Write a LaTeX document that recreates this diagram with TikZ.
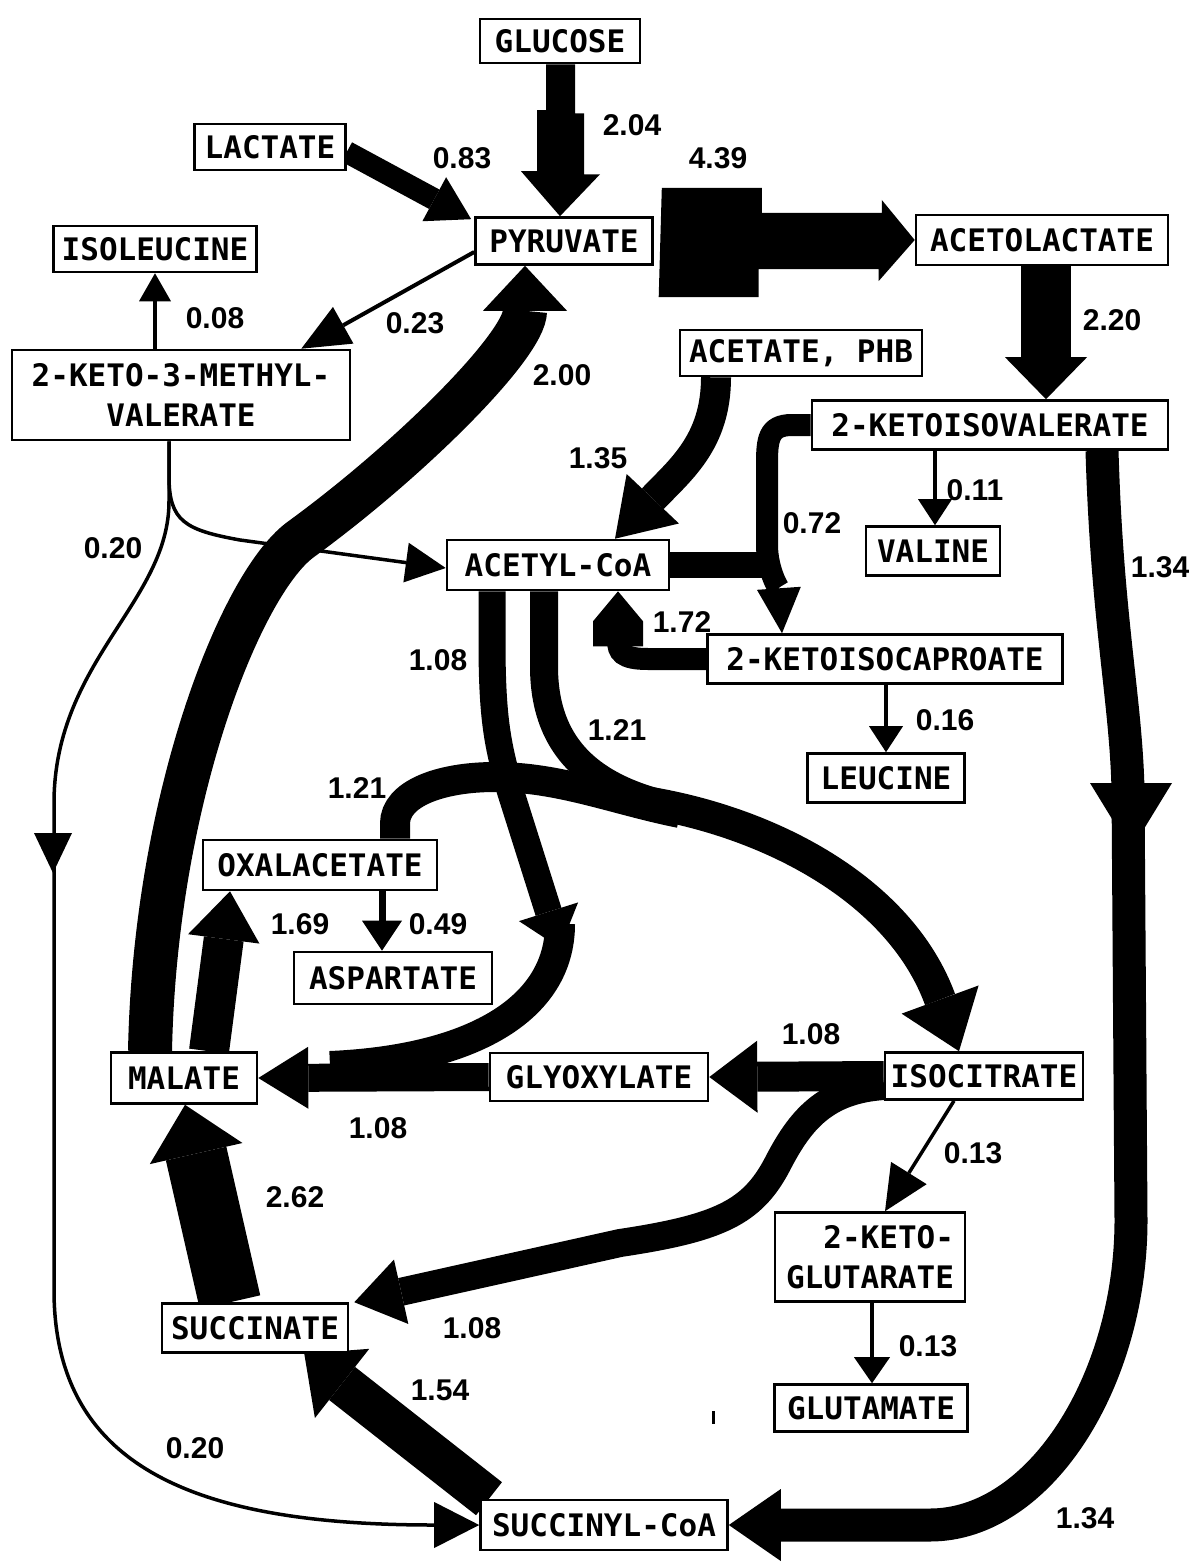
\documentclass[tikz,border=0pt]{standalone}
\usepackage{fontspec}
\usetikzlibrary{arrows.meta,calc}
\newfontfamily\monofam{DejaVu Sans Mono}
\newfontfamily\numfam{Liberation Sans}
\pgfdeclarelayer{back}
\pgfdeclarelayer{bg}
\pgfsetlayers{back,bg,main}
\tikzset{
  box/.style={draw, line width=2.6pt, fill=white, inner sep=0pt, align=center,
    font=\monofam\bfseries\fontsize{31}{40}\selectfont},
  lab/.style={inner sep=0pt, font=\numfam\bfseries\fontsize{30}{34}\selectfont},
  fat/.style n args={3}{line width=#1, -{Triangle[length=#2, width=#3, line width=0pt]}},
  bandw/.style={line width=#1},
}
\begin{document}
\begin{tikzpicture}[x=1pt,y=-1pt]
\begin{pgfonlayer}{back}
\fill[white] (0,0) rectangle (1191,1562);
\end{pgfonlayer}
\useasboundingbox (0,0) rectangle (1191,1562);

% boxes
\node[box, minimum width=160pt, minimum height=44pt] (glc) at (560,41) {GLUCOSE};
\node[box, minimum width=151pt, minimum height=46pt] (lac) at (270,147) {LACTATE};
\node[box, minimum width=177pt, minimum height=47pt] (pyr) at (564,241) {PYRUVATE};
\node[box, minimum width=203pt, minimum height=46pt] (iso) at (155,249) {ISOLEUCINE};
\node[box, minimum width=252pt, minimum height=50pt] (acl) at (1042,240) {ACETOLACTATE};
\node[box, minimum width=338pt, minimum height=90pt] (kmv) at (181,395) {2-KETO-3-METHYL-\\VALERATE};
\node[box, minimum width=242pt, minimum height=46pt] (ace) at (801,353) {ACETATE, PHB};
\node[box, minimum width=356pt, minimum height=49pt] (kiv) at (990,425) {2-KETOISOVALERATE};
\node[box, minimum width=134pt, minimum height=49pt] (val) at (933,551) {VALINE};
\node[box, minimum width=222pt, minimum height=50pt] (acoa) at (558,565) {ACETYL-CoA};
\node[box, minimum width=355pt, minimum height=49pt] (kic) at (885,659) {2-KETOISOCAPROATE};
\node[box, minimum width=157pt, minimum height=49pt] (leu) at (886,778) {LEUCINE};
\node[box, minimum width=234pt, minimum height=50pt] (oaa) at (320,865) {OXALACETATE};
\node[box, minimum width=198pt, minimum height=52pt] (asp) at (393,978) {ASPARTATE};
\node[box, minimum width=146pt, minimum height=51pt] (mal) at (184,1078) {MALATE};
\node[box, minimum width=218pt, minimum height=48pt] (gly) at (599,1077) {GLYOXYLATE};
\node[box, minimum width=198pt, minimum height=47pt] (icit) at (984,1076) {ISOCITRATE};
\node[box, minimum width=190pt, minimum height=89pt, align=right] (kg) at (870,1257) {2-KETO-\\GLUTARATE};
\node[box, minimum width=193pt, minimum height=47pt] (glu) at (871,1408) {GLUTAMATE};
\node[box, minimum width=186pt, minimum height=49pt] (suc) at (255,1328) {SUCCINATE};
\node[box, minimum width=247pt, minimum height=50pt] (sca) at (604,1525) {SUCCINYL-CoA};

% labels
\node[lab] (l1) at (632,125) {2.04};
\node[lab] (l2) at (462,158) {0.83};
\node[lab] (l3) at (718,158) {4.39};
\node[lab] (l4) at (215,318) {0.08};
\node[lab] (l5) at (415,323) {0.23};
\node[lab] (l6) at (1112,320) {2.20};
\node[lab] (l7) at (562,375) {2.00};
\node[lab] (l8) at (598,458) {1.35};
\node[lab] (l9) at (975,490) {0.11};
\node[lab] (l10) at (812,523) {0.72};
\node[lab] (l11) at (113,548) {0.20};
\node[lab] (l12) at (1160,567) {1.34};
\node[lab] (l13) at (438,660) {1.08};
\node[lab] (l14) at (682,622) {1.72};
\node[lab] (l15) at (617,730) {1.21};
\node[lab] (l16) at (945,720) {0.16};
\node[lab] (l17) at (357,788) {1.21};
\node[lab] (l18) at (300,924) {1.69};
\node[lab] (l19) at (438,924) {0.49};
\node[lab] (l20) at (811,1034) {1.08};
\node[lab] (l21) at (378,1128) {1.08};
\node[lab] (l22) at (973,1153) {0.13};
\node[lab] (l23) at (295,1197) {2.62};
\node[lab] (l24) at (472,1328) {1.08};
\node[lab] (l25) at (928,1346) {0.13};
\node[lab] (l26) at (440,1390) {1.54};
\node[lab] (l27) at (195,1448) {0.20};
\node[lab] (l28) at (1085,1518) {1.34};

\coordinate (mh) at (560,948);
\coordinate (mj) at (330,1066);
\coordinate (cm) at (680,808);
\coordinate (cs) at (645,802);

\begin{pgfonlayer}{bg}
% thin connectors
\draw[fat={3.5pt}{28pt}{32pt}] ([xshift=-26pt]kmv.north) -- (iso.south);
\draw[fat={4pt}{48pt}{42pt}] ([yshift=-11pt]pyr.west) -- ([xshift=-50pt]kmv.north east);
\draw[fat={3.5pt}{40pt}{40pt}] ([xshift=-12pt]kmv.south) -- ++(0,35) .. controls +(0,45) and (185,530) .. (240,540) -- ([yshift=-3pt]acoa.west);
\draw[fat={3.5pt}{45pt}{46pt}] ([xshift=-12pt]kmv.south) -- ++(0,60) .. controls +(0,100) and (56,660) .. (54,800) -- (54,1290) .. controls (54,1470) and (200,1525) .. (sca.west);
\fill (34,833) -- (72,833) -- (53,873) -- cycle;
\draw[fat={3.5pt}{26pt}{34pt}] ([xshift=-55pt]kiv.south) -- ([xshift=2pt]val.north);
\draw[fat={3.5pt}{26pt}{34pt}] ([xshift=1pt]kic.south) -- (leu.north);
\draw[fat={7pt}{30pt}{40pt}] ([xshift=62pt]oaa.south) -- ([xshift=-11pt]asp.north);
\draw[fat={3.5pt}{45pt}{42pt}] ([xshift=-30pt]icit.south) -- ([xshift=15pt]kg.north);
\draw[fat={4pt}{26pt}{36pt}] ([xshift=2pt]kg.south) -- ([xshift=1pt]glu.north);

% glucose -> pyruvate
\fill (glc.south) ++(-14,0) -- ++(29,0) -- ++(0,49) -- ++(9,0) -- ++(0,61) -- ++(16,0)
  -- ([xshift=-4pt]pyr.north) -- ++(-39,-45) -- ++(16,0) -- ++(0,-61) -- ++(9,0) -- cycle;
% lactate -> pyruvate
\draw[fat={22pt}{42pt}{50pt}] ([yshift=-5pt]lac.east) -- ([xshift=-3pt,yshift=-3pt]pyr.north west);
% pyruvate -> acetolactate
\fill (pyr.east) ++(8,-53) -- ++(100,0) -- ++(0,25) -- ++(120,0) -- ++(0,-13)
  -- (acl.west) -- ++(-36,41) -- ++(0,-12) -- ++(-120,0) -- ++(0,28) -- ++(-100,0) -- cycle;
% acetolactate -> KIV
\draw[fat={50pt}{42pt}{82pt}] ([xshift=4pt]acl.south) -- ([xshift=56pt]kiv.north);
% malate -> pyruvate
\draw[fat={44pt}{45pt}{84pt}] ([xshift=-34pt]mal.north) .. controls (155,800) and (240,585) .. (300,540)
  .. controls (410,460) and (525,345) .. ([xshift=-39pt]pyr.south);
% acetate -> acetyl-CoA
\draw[fat={30pt}{55pt}{72pt}] ([xshift=-85pt]ace.south) .. controls +(0,65) and (680,470) .. ([xshift=57pt]acoa.north);
% KIV -> KIC
\draw[fat={22pt}{45pt}{44pt}] (kiv.west) -- (792,425) .. controls (768,425) and (767,440) .. (767,465)
  -- (767,545) .. controls (767,570) and (779,590) .. ([xshift=-103pt]kic.north);
\draw[line width=26pt] (acoa.east) -- (772,565);
% KIC -> acetyl-CoA
\draw[line width=22pt] (kic.west) -- (648,659) .. controls (622,659) and (618,652) .. (618,640);
\fill ([xshift=60pt]acoa.south) -- ++(25,30) -- ++(0,25) -- ++(-50,0) -- ++(0,-25) -- cycle;
% acetyl-CoA -> malate (via glyoxylate)
\draw[fat={27pt}{38pt}{62pt}] ([xshift=-66pt]acoa.south) -- ++(0,50) .. controls +(0,80) and (498,745) .. (510,790) -- (mh);
\draw[line width=30pt] ([yshift=24pt]mh) .. controls (560,1010) and (470,1060) .. (mj);
\draw[fat={28pt}{50pt}{62pt}] (gly.west) -- (mal.east);
% acetyl-CoA + OAA -> isocitrate
\draw[line width=28pt] ([xshift=-14pt]acoa.south) -- ++(0,75) .. controls +(0,80) and (590,790) .. (cm);
\draw[line width=30pt] ([xshift=75pt]oaa.north) -- ++(0,-15) .. controls +(0,-30) and (440,777) .. (495,777)
  .. controls (560,777) and (615,800) .. ([yshift=-5pt]cm);
\draw[fat={32pt}{55pt}{82pt}, line join=round] (cs) .. controls (770,822) and (900,890) .. ([xshift=-25pt]icit.north);
% malate -> OAA
\draw[fat={40pt}{48pt}{72pt}] ([xshift=25pt]mal.north) -- ([xshift=-90pt]oaa.south);
% succinate -> malate
\draw[fat={62pt}{50pt}{95pt}] ([xshift=-25pt]suc.north) -- ([xshift=1pt]mal.south);
% succinyl-CoA -> succinate
\draw[fat={42pt}{48pt}{88pt}] ([xshift=-115pt]sca.north) -- ([xshift=-45pt]suc.south east);
% isocitrate -> glyoxylate
\draw[fat={30pt}{48pt}{72pt}] (icit.west) -- (gly.east);
% isocitrate -> succinate
\draw[fat={28pt}{48pt}{66pt}] ([yshift=-10pt]icit.west) .. controls (825,1090) and (800,1120) .. (777,1165)
  .. controls (752,1212) and (720,1228) .. (620,1243) -- ([xshift=5pt]suc.north east);
% KIV -> succinyl-CoA
\draw[fat={33pt}{52pt}{72pt}] ([xshift=112pt]kiv.south) .. controls +(5,170) and (1126,700) .. (1128,790)
  -- (1131,1220) .. controls (1131,1380) and (1040,1525) .. (930,1525) -- (sca.east);
\fill (1090,783) -- (1172,783) -- (1131,850) -- cycle;
\fill (712,1411) rectangle (715,1424);
\end{pgfonlayer}
\end{tikzpicture}
\end{document}
